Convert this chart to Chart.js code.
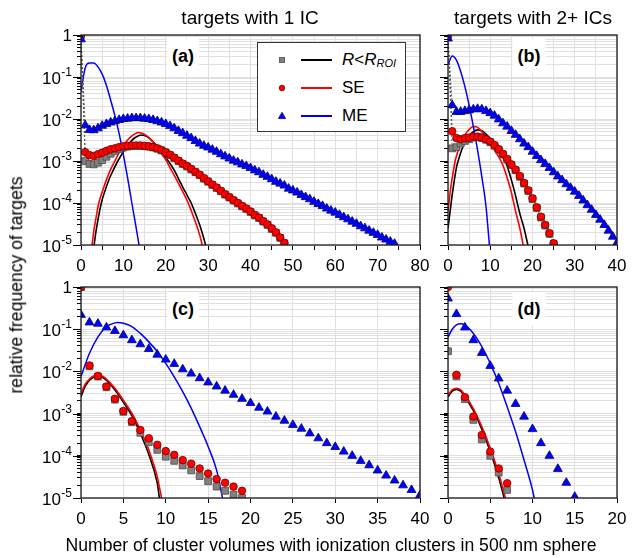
<!DOCTYPE html>
<html><head><meta charset="utf-8">
<script src="https://cdn.jsdelivr.net/npm/chart.js@4.4.1/dist/chart.umd.min.js"></script>
<style>
html,body{margin:0;padding:0;background:#fff;}
#wrap{position:relative;width:635px;height:558px;overflow:hidden;font-family:"Liberation Sans",Arial,sans-serif;color:#000;background:#fff;}
canvas{position:absolute;left:0;top:0;}
.t{position:absolute;white-space:nowrap;transform:translate(-50%,-50%);line-height:1;}
.plab{position:absolute;transform:translate(-50%,-50%);background:#fff;font-weight:bold;font-size:18px;padding:8px 5px;line-height:1;}
#legend{position:absolute;left:257px;top:42px;width:149px;height:90px;border:1px solid #333;background:#fff;box-sizing:border-box;}
.lrow{position:absolute;left:0;width:147px;height:20px;}
.lmk{position:absolute;left:18px;top:4px;}
.lln{position:absolute;left:43px;top:9px;width:31px;height:2px;}
.ltx{position:absolute;left:84px;top:1px;font-size:17px;line-height:18px;white-space:nowrap;}
</style></head>
<body><div id="wrap">
<canvas id="cA" width="635" height="558"></canvas>
<canvas id="cB" width="635" height="558"></canvas>
<canvas id="cC" width="635" height="558"></canvas>
<canvas id="cD" width="635" height="558"></canvas>

<div class="t" style="left:250px;top:17px;font-size:19px;">targets with 1 IC</div>
<div class="t" style="left:533px;top:17px;font-size:19px;">targets with 2+ ICs</div>
<div class="t" style="left:331px;top:546px;font-size:17.6px;">Number of cluster volumes with ionization clusters in 500 nm sphere</div>
<div class="t" style="left:17px;top:285px;font-size:17.6px;transform:translate(-50%,-50%) rotate(-90deg);">relative frequency of targets</div>

<div class="plab" style="left:183px;top:56px;">(a)</div>
<div class="plab" style="left:529px;top:56px;">(b)</div>
<div class="plab" style="left:183px;top:309px;">(c)</div>
<div class="plab" style="left:529px;top:309px;">(d)</div>

<div id="legend">
  <div class="lrow" style="top:7px;">
    <svg class="lmk" width="12" height="12"><rect x="3.5" y="3.5" width="5" height="5" fill="#808080" stroke="#4d4d4d" stroke-width="0.8"/></svg>
    <div class="lln" style="background:#000;"></div>
    <div class="ltx"><i>R</i>&lt;<i>R</i><sub style="font-size:11px;font-style:italic;position:relative;top:2px;vertical-align:baseline;">ROI</sub></div>
  </div>
  <div class="lrow" style="top:35px;">
    <svg class="lmk" width="12" height="12"><circle cx="6" cy="6" r="2.8" fill="#ff0000" stroke="#700000" stroke-width="0.8"/></svg>
    <div class="lln" style="background:#ff0000;"></div>
    <div class="ltx">SE</div>
  </div>
  <div class="lrow" style="top:63px;">
    <svg class="lmk" width="12" height="12"><polygon points="6,2.3 9.6,8.6 2.4,8.6" fill="#0000ff" stroke="#000080" stroke-width="0.8"/></svg>
    <div class="lln" style="background:#0000ff;"></div>
    <div class="ltx">ME</div>
  </div>
</div>
</div>

<script>
// ---------- axis ticks ----------
const yDecades = [1e-5, 1e-4, 1e-3, 1e-2, 1e-1, 1];
const yDecadeExp = ['-5', '-4', '-3', '-2', '-1', ''];
const yMinorMult = [2, 3, 4, 5, 6, 7, 8, 9];
const xTicks80 = [0,5,10,15,20,25,30,35,40,45,50,55,60,65,70,75,80];
const xTicks40 = [0,5,10,15,20,25,30,35,40];
const xTicks20 = [0,5,10,15,20];

// ---------- panel (a): targets with 1 IC (top-left) ----------
// marker series: index = number of cluster volumes (0,1,2,...)
const aRoi = [1, 1.0e-3, 8.5e-4, 8.3e-4, 9.1e-4, 1.05e-3, 1.26e-3, 1.48e-3, 1.70e-3, 1.91e-3, 2.09e-3, 2.2e-3, 2.28e-3, 2.3e-3, 2.3e-3, 2.25e-3, 2.2e-3, 2.1e-3, 1.96e-3, 1.78e-3, 1.58e-3, 1.38e-3, 1.17e-3, 1.0e-3, 8.5e-4, 7.4e-4, 6.3e-4, 5.4e-4, 4.6e-4, 3.8e-4, 3.2e-4, 2.7e-4, 2.28e-4, 1.9e-4, 1.58e-4, 1.35e-4, 1.14e-4, 9.8e-5, 8.3e-5, 7.2e-5, 6.1e-5, 5.1e-5, 4.4e-5, 3.6e-5, 3.0e-5, 2.4e-5, 1.95e-5, 1.48e-5, 1.1e-5];
const aSe = [1, 1.62e-3, 1.38e-3, 1.32e-3, 1.45e-3, 1.58e-3, 1.74e-3, 1.91e-3, 2.0e-3, 2.14e-3, 2.24e-3, 2.29e-3, 2.34e-3, 2.34e-3, 2.34e-3, 2.29e-3, 2.24e-3, 2.14e-3, 2.0e-3, 1.82e-3, 1.62e-3, 1.41e-3, 1.20e-3, 1.02e-3, 8.7e-4, 7.6e-4, 6.5e-4, 5.5e-4, 4.7e-4, 3.9e-4, 3.3e-4, 2.75e-4, 2.34e-4, 1.95e-4, 1.62e-4, 1.38e-4, 1.17e-4, 1.0e-4, 8.5e-5, 7.4e-5, 6.3e-5, 5.2e-5, 4.5e-5, 3.7e-5, 3.1e-5, 2.5e-5, 2.0e-5, 1.51e-5, 1.12e-5];
const aMe = [0.79, 7.1e-3, 5.5e-3, 5.4e-3, 6.0e-3, 6.9e-3, 7.6e-3, 8.3e-3, 8.9e-3, 9.5e-3, 1.0e-2, 1.02e-2, 1.05e-2, 1.05e-2, 1.05e-2, 1.02e-2, 1.0e-2, 9.5e-3, 8.9e-3, 8.3e-3, 7.6e-3, 6.8e-3, 6.0e-3, 5.2e-3, 4.6e-3, 4.0e-3, 3.5e-3, 3.0e-3, 2.6e-3, 2.3e-3, 2.1e-3, 1.86e-3, 1.66e-3, 1.45e-3, 1.29e-3, 1.15e-3, 1.02e-3, 9.3e-4, 8.3e-4, 7.6e-4, 6.8e-4, 6.0e-4, 5.4e-4, 4.7e-4, 4.2e-4, 3.7e-4, 3.2e-4, 2.9e-4, 2.6e-4, 2.2e-4, 2.0e-4, 1.78e-4, 1.55e-4, 1.38e-4, 1.23e-4, 1.07e-4, 9.5e-5, 8.5e-5, 7.4e-5, 6.6e-5, 5.9e-5, 5.2e-5, 4.6e-5, 4.1e-5, 3.6e-5, 3.2e-5, 2.8e-5, 2.5e-5, 2.2e-5, 1.95e-5, 1.74e-5, 1.51e-5, 1.35e-5, 1.20e-5, 1.07e-5];
// fitted curves
const aRoiLineX = [3.1, 3.5, 4, 4.8, 5.5, 6.5, 7.5, 8.7, 10, 11, 12, 13, 14.1, 15, 16, 17, 18, 19, 20, 20.6, 22, 23, 24, 25, 26, 27, 28, 29, 29.4];
const aRoiLineY = [1e-5, 2.0e-5, 3.98e-5, 1e-4, 1.74e-4, 3.39e-4, 5.75e-4, 1e-3, 1.66e-3, 2.34e-3, 3.09e-3, 3.72e-3, 4.17e-3, 4.07e-3, 3.55e-3, 2.88e-3, 2.19e-3, 1.62e-3, 1.20e-3, 1e-3, 6.03e-4, 3.80e-4, 2.40e-4, 1.55e-4, 1e-4, 5.62e-5, 3.02e-5, 1.41e-5, 1e-5];
const aSeLineX = [2.6, 3, 3.5, 4.2, 5, 6, 7, 8, 9, 10, 11, 12, 13, 13.5, 14, 15, 16, 17, 18, 19, 20.2, 21, 22, 23, 24, 25.3, 26, 27, 28, 28.6];
const aSeLineY = [1e-5, 2.09e-5, 4.17e-5, 1e-4, 1.82e-4, 3.55e-4, 6.31e-4, 1e-3, 1.58e-3, 2.34e-3, 3.16e-3, 3.98e-3, 4.57e-3, 4.79e-3, 4.68e-3, 4.27e-3, 3.63e-3, 2.82e-3, 2.09e-3, 1.51e-3, 1e-3, 6.92e-4, 4.57e-4, 2.95e-4, 1.86e-4, 1e-4, 6.61e-5, 3.55e-5, 1.74e-5, 1e-5];
const aMeLineX = [0, 1, 2, 3, 4, 5, 6, 7, 8, 9, 10, 11, 12, 13, 13.7];
const aMeLineY = [4.47e-2, 0.166, 0.214, 0.214, 0.174, 0.117, 6.31e-2, 2.82e-2, 1.20e-2, 4.47e-3, 1.41e-3, 3.98e-4, 1e-4, 2.63e-5, 1e-5];

// ---------- panel (b): targets with 2+ ICs (top-right) ----------
const bRoi = [1, 2.0e-3, 2.14e-3, 2.6e-3, 3.0e-3, 3.3e-3, 3.6e-3, 3.7e-3, 3.5e-3, 3.2e-3, 2.8e-3, 2.3e-3, 1.85e-3, 1.43e-3, 1.08e-3, 8.0e-4, 6.0e-4, 4.2e-4, 2.9e-4, 1.93e-4, 1.24e-4, 7.6e-5, 4.5e-5, 2.9e-5, 1.84e-5, 1.06e-5];
const bSe = [1, 5.1e-3, 3.5e-3, 3.3e-3, 3.5e-3, 3.6e-3, 3.8e-3, 3.8e-3, 3.6e-3, 3.3e-3, 2.9e-3, 2.4e-3, 1.91e-3, 1.48e-3, 1.12e-3, 8.3e-4, 6.2e-4, 4.4e-4, 3.0e-4, 2.0e-4, 1.29e-4, 7.9e-5, 4.7e-5, 3.0e-5, 1.91e-5, 1.10e-5];
const bMe = [0.83, 2.14e-2, 1.48e-2, 1.48e-2, 1.55e-2, 1.62e-2, 1.70e-2, 1.74e-2, 1.70e-2, 1.55e-2, 1.38e-2, 1.20e-2, 9.8e-3, 7.9e-3, 6.6e-3, 5.2e-3, 4.2e-3, 3.3e-3, 2.6e-3, 2.14e-3, 1.66e-3, 1.32e-3, 1.05e-3, 8.5e-4, 6.8e-4, 5.4e-4, 4.3e-4, 3.5e-4, 2.8e-4, 2.3e-4, 1.86e-4, 1.48e-4, 1.15e-4, 8.9e-5, 6.9e-5, 5.2e-5, 4.0e-5, 3.0e-5, 2.2e-5, 1.58e-5, 1.12e-5];
const bRoiLineX = [0, 0.5, 1, 2, 2.4, 3, 4, 5, 6, 7, 8, 9, 10, 11, 12, 13, 13.5, 14, 15, 16, 16.4, 17, 18, 18.9];
const bRoiLineY = [2.51e-5, 6.31e-5, 1.58e-4, 7.08e-4, 1e-3, 1.58e-3, 2.82e-3, 3.98e-3, 5.01e-3, 5.5e-3, 5.25e-3, 4.37e-3, 3.39e-3, 2.51e-3, 1.78e-3, 1.20e-3, 1e-3, 7.59e-4, 3.55e-4, 1.48e-4, 1e-4, 5.62e-5, 2.51e-5, 1e-5];
const bSeLineX = [0, 0.5, 1, 1.7, 2, 3, 4, 5, 6, 7, 8, 9, 10, 11, 12, 13, 14, 15, 16, 17, 17.8];
const bSeLineY = [6.31e-5, 1.78e-4, 3.98e-4, 1e-3, 1.32e-3, 2.63e-3, 4.17e-3, 5.62e-3, 6.61e-3, 6.31e-3, 5.01e-3, 3.72e-3, 2.63e-3, 1.82e-3, 1.26e-3, 7.94e-4, 3.98e-4, 1.78e-4, 6.31e-5, 2.51e-5, 1e-5];
const bMeLineX = [0, 1, 2, 3, 4, 5, 6, 7, 8, 9, 9.8];
const bMeLineY = [0.195, 0.316, 0.251, 0.135, 5.89e-2, 2.14e-2, 6.61e-3, 1.82e-3, 4.27e-4, 8.13e-5, 1e-5];

// ---------- panel (c): targets with 1 IC (bottom-left) ----------
const cRoi = [1, 1.32e-2, 7.6e-3, 4.2e-3, 2.14e-3, 1.10e-3, 6.3e-4, 3.5e-4, 2.1e-4, 1.38e-4, 9.5e-5, 7.6e-5, 5.9e-5, 4.5e-5, 3.3e-5, 2.5e-5, 1.86e-5, 1.48e-5, 1.20e-5, 1.0e-5];
const cSe = [1, 1.38e-2, 7.8e-3, 4.4e-3, 2.24e-3, 1.15e-3, 6.6e-4, 4.1e-4, 2.6e-4, 1.82e-4, 1.29e-4, 1.05e-4, 7.9e-5, 6.5e-5, 5.0e-5, 3.8e-5, 2.8e-5, 2.3e-5, 1.86e-5, 1.48e-5];
const cMe = [0.219, 0.145, 0.135, 0.110, 9.1e-2, 7.2e-2, 5.5e-2, 4.4e-2, 3.4e-2, 2.5e-2, 1.91e-2, 1.51e-2, 1.12e-2, 8.9e-3, 6.9e-3, 5.5e-3, 4.4e-3, 3.5e-3, 2.8e-3, 2.24e-3, 1.78e-3, 1.38e-3, 1.12e-3, 8.5e-4, 6.8e-4, 5.4e-4, 4.4e-4, 3.4e-4, 2.6e-4, 2.0e-4, 1.62e-4, 1.26e-4, 1.0e-4, 7.6e-5, 6.0e-5, 4.5e-5, 3.4e-5, 2.6e-5, 2.0e-5, 1.55e-5, 1.17e-5];
const cRoiLineX = [0, 0.5, 1, 1.5, 2, 2.5, 3, 4, 5, 6, 7, 8, 9, 9.25];
const cRoiLineY = [2.51e-3, 4.47e-3, 6.17e-3, 7.24e-3, 7.59e-3, 7.24e-3, 6.17e-3, 3.63e-3, 1.86e-3, 8.91e-4, 3.39e-4, 1.07e-4, 2.24e-5, 1e-5];
const cSeLineX = [0, 0.5, 1, 1.5, 2, 2.5, 3, 4, 5, 6, 7, 8, 9, 9.5];
const cSeLineY = [3.02e-3, 5.01e-3, 6.61e-3, 7.76e-3, 8.13e-3, 7.76e-3, 6.61e-3, 3.98e-3, 2.09e-3, 1.02e-3, 4.07e-4, 1.38e-4, 3.16e-5, 1e-5];
const cMeLineX = [0, 1, 2, 3, 4, 4.3, 5, 6, 7, 8, 9, 10, 11, 12, 13, 14, 15, 16, 16.7];
const cMeLineY = [7.59e-3, 2.69e-2, 6.61e-2, 0.115, 0.141, 0.145, 0.138, 0.115, 7.94e-2, 5.01e-2, 2.95e-2, 1.55e-2, 7.41e-3, 3.31e-3, 1.35e-3, 4.9e-4, 1.66e-4, 4.57e-5, 1e-5];

// ---------- panel (d): targets with 2+ ICs (bottom-right) ----------
const dRoi = [3.0e-2, 7.6e-3, 2.19e-3, 7.1e-4, 2.45e-4, 1.0e-4, 4.0e-5, 1.55e-5];
const dSe = [1, 8.3e-3, 2.45e-3, 8.5e-4, 3.1e-4, 1.26e-4, 5.0e-5, 2.24e-5];
const dMe = [0.537, 0.229, 0.110, 5.5e-2, 2.75e-2, 1.35e-2, 6.8e-3, 3.5e-3, 1.70e-3, 8.5e-4, 4.3e-4, 2.0e-4, 1.0e-4, 4.9e-5, 2.3e-5, 1.07e-5];
const dRoiLineX = [0, 0.5, 1, 1.5, 2, 3, 4, 5, 6, 6.65];
const dRoiLineY = [2.51e-3, 3.39e-3, 3.72e-3, 3.39e-3, 2.51e-3, 1.17e-3, 4.27e-4, 1.26e-4, 3.02e-5, 1e-5];
const dSeLineX = [0, 0.5, 1, 1.5, 2, 3, 4, 5, 6, 6.8];
const dSeLineY = [2.75e-3, 3.63e-3, 3.98e-3, 3.63e-3, 2.75e-3, 1.32e-3, 4.9e-4, 1.51e-4, 3.8e-5, 1e-5];
const dMeLineX = [0, 0.5, 1, 1.5, 2, 3, 4, 5, 6, 7, 8, 9, 10, 10.2];
const dMeLineY = [6.46e-2, 0.1, 0.126, 0.135, 0.126, 7.94e-2, 3.89e-2, 1.55e-2, 5.25e-3, 1.45e-3, 3.72e-4, 7.94e-5, 1.55e-5, 1e-5];

// ---------- rendering ----------
const FONT = '"Liberation Sans", Arial, sans-serif';
Chart.defaults.font.family = FONT;
Chart.defaults.font.size = 17;
Chart.defaults.color = '#000';

const W = 635, H = 558;
const GRID = '#e0e0e0';

function markerPts(vals) { return vals.map((v, i) => ({x: i, y: v})); }
function linePts(xs, ys) { return xs.map((x, i) => ({x: x, y: ys[i]})); }

const framePlugin = {
  id: 'frame',
  afterDraw(chart, args, opts) {
    const ctx = chart.ctx, a = chart.chartArea, ys = chart.scales.y;
    ctx.save();
    ctx.strokeStyle = '#000';
    ctx.lineWidth = 1;
    yDecades.forEach(v => {
      const py = Math.round(ys.getPixelForValue(v)) + 0.5;
      ctx.beginPath(); ctx.moveTo(a.left - 8, py); ctx.lineTo(a.left, py); ctx.stroke();
    });
    if (opts.yLabels) {
      ctx.fillStyle = '#000';
      ctx.textBaseline = 'alphabetic';
      ctx.textAlign = 'right';
      const rx = a.left - 9;
      yDecades.forEach((v, i) => {
        const py = ys.getPixelForValue(v);
        const e = yDecadeExp[i];
        if (e === '') {
          ctx.font = '17px ' + FONT;
          ctx.fillText('1', rx, py + 6);
        } else {
          ctx.font = '12px ' + FONT;
          const sw = ctx.measureText(e).width;
          ctx.fillText(e, rx, py - 1);
          ctx.font = '17px ' + FONT;
          ctx.fillText('10', rx - sw - 0.5, py + 7);
        }
      });
    }
    ctx.lineWidth = 1.3;
    ctx.strokeStyle = '#1a1a1a';
    ctx.strokeRect(a.left, a.top, a.right - a.left, a.bottom - a.top);
    ctx.restore();
  }
};

function makePanel(id, p) {
  const connect = p.connect;
  const dash = {showLine: connect, borderColor: '#555', borderWidth: 1, borderDash: [2, 2]};
  const datasets = [
    Object.assign({label: 'ME', data: markerPts(p.me), pointStyle: 'triangle', pointRadius: 5.1,
      pointBackgroundColor: '#0000ff', pointBorderColor: '#00006e', pointBorderWidth: 0.8, order: 1, clip: 0}, dash),
    Object.assign({label: 'SE', data: markerPts(p.se), pointStyle: 'circle', pointRadius: 3.8,
      pointBackgroundColor: '#ff0000', pointBorderColor: '#6e0000', pointBorderWidth: 0.8, order: 2, clip: 0}, dash),
    Object.assign({label: 'R<R_ROI', data: markerPts(p.roi), pointStyle: 'rect', pointRadius: 4.8,
      pointBackgroundColor: '#808080', pointBorderColor: '#4a4a4a', pointBorderWidth: 0.8, order: 3, clip: 0}, dash),
    {label: 'ME fit', data: linePts(p.meLx, p.meLy), showLine: true, pointRadius: 0, borderColor: '#0000ff',
      borderWidth: 1.5, cubicInterpolationMode: 'monotone', order: 4, clip: 0},
    {label: 'SE fit', data: linePts(p.seLx, p.seLy), showLine: true, pointRadius: 0, borderColor: '#ff0000',
      borderWidth: 1.6, cubicInterpolationMode: 'monotone', order: 5, clip: 0},
    {label: 'ROI fit', data: linePts(p.roiLx, p.roiLy), showLine: true, pointRadius: 0, borderColor: '#000000',
      borderWidth: 1.6, cubicInterpolationMode: 'monotone', order: 6, clip: 0}
  ];
  const ar = p.area;
  return new Chart(document.getElementById(id), {
    type: 'scatter',
    data: {datasets},
    plugins: [framePlugin],
    options: {
      responsive: false, animation: false, devicePixelRatio: 1,
      events: [],
      layout: {padding: {left: ar.left - 20, top: ar.top, right: W - ar.right, bottom: H - ar.bottom - 34}},
      plugins: {legend: {display: false}, tooltip: {enabled: false}, frame: {yLabels: p.yLabels}},
      scales: {
        x: {
          type: 'linear', position: 'bottom', min: 0, max: p.xMax,
          afterBuildTicks(s) { s.ticks = p.xTicks.map(v => ({value: v})); },
          afterFit(s) { s.height = 34; },
          ticks: {autoSkip: false, maxRotation: 0, padding: 6, font: {size: 17},
            callback: (v) => (v % p.labelStep === 0 ? String(v) : '')},
          grid: {color: GRID, lineWidth: 1, tickColor: '#000', tickLength: 5, tickWidth: 1},
          border: {display: false}
        },
        y: {
          type: 'logarithmic', position: 'left', min: 1e-5, max: 1,
          afterBuildTicks(s) {
            const t = [];
            yDecades.forEach((d, i) => {
              t.push({value: d});
              if (i < yDecades.length - 1) yMinorMult.forEach(m => t.push({value: m * d}));
            });
            s.ticks = t;
          },
          afterFit(s) { s.width = 20; },
          ticks: {autoSkip: false, callback: () => ''},
          grid: {color: GRID, lineWidth: 1, tickColor: '#000', tickLength: 4, tickWidth: 1},
          border: {display: false}
        }
      }
    }
  });
}

makePanel('cA', {area: {left: 81, top: 35, right: 420, bottom: 245}, xMax: 80, xTicks: xTicks80, labelStep: 10,
  yLabels: true, connect: true, roi: aRoi, se: aSe, me: aMe,
  roiLx: aRoiLineX, roiLy: aRoiLineY, seLx: aSeLineX, seLy: aSeLineY, meLx: aMeLineX, meLy: aMeLineY});
makePanel('cB', {area: {left: 448, top: 35, right: 617, bottom: 245}, xMax: 40, xTicks: xTicks40, labelStep: 10,
  yLabels: false, connect: true, roi: bRoi, se: bSe, me: bMe,
  roiLx: bRoiLineX, roiLy: bRoiLineY, seLx: bSeLineX, seLy: bSeLineY, meLx: bMeLineX, meLy: bMeLineY});
makePanel('cC', {area: {left: 81, top: 287, right: 420, bottom: 498}, xMax: 40, xTicks: xTicks40, labelStep: 5,
  yLabels: true, connect: false, roi: cRoi, se: cSe, me: cMe,
  roiLx: cRoiLineX, roiLy: cRoiLineY, seLx: cSeLineX, seLy: cSeLineY, meLx: cMeLineX, meLy: cMeLineY});
makePanel('cD', {area: {left: 448, top: 287, right: 617, bottom: 498}, xMax: 20, xTicks: xTicks20, labelStep: 5,
  yLabels: false, connect: false, roi: dRoi, se: dSe, me: dMe,
  roiLx: dRoiLineX, roiLy: dRoiLineY, seLx: dSeLineX, seLy: dSeLineY, meLx: dMeLineX, meLy: dMeLineY});
</script>
</body></html>
